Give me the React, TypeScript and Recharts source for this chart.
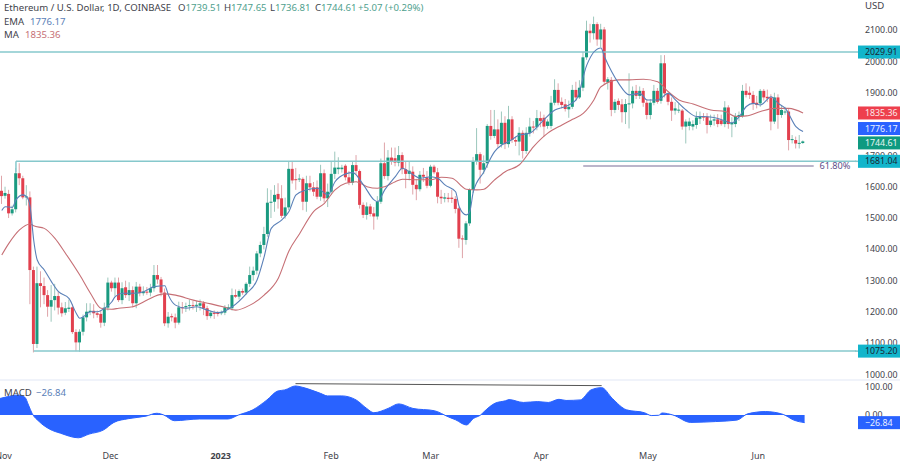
import { Area, Bar, ComposedChart, Line, ReferenceDot, ReferenceLine, XAxis, YAxis } from 'recharts';

const opens = [
  1587, 1571, 1577, 1515, 1528, 1643, 1627, 1566, 1566, 1334,
  1098, 1292, 1283, 1254, 1217, 1238, 1251, 1215, 1198, 1210,
  1215, 1136, 1103, 1137, 1183, 1200, 1204, 1196, 1194, 1166,
  1214, 1294, 1276, 1294, 1238, 1279, 1254, 1270, 1228, 1281,
  1260, 1265, 1262, 1276, 1318, 1304, 1262, 1164, 1187, 1183,
  1166, 1215, 1215, 1219, 1222, 1220, 1220, 1228, 1212, 1187,
  1198, 1197, 1196, 1198, 1210, 1212, 1254, 1249, 1267, 1262,
  1290, 1318, 1332, 1387, 1414, 1449, 1549, 1552, 1577, 1563,
  1507, 1534, 1657, 1624, 1624, 1625, 1552, 1611, 1598, 1598,
  1568, 1643, 1563, 1584, 1641, 1656, 1656, 1667, 1630, 1613,
  1669, 1650, 1542, 1510, 1537, 1515, 1505, 1552, 1675, 1634,
  1693, 1691, 1677, 1701, 1656, 1641, 1648, 1606, 1592, 1638,
  1630, 1603, 1664, 1646, 1568, 1562, 1565, 1565, 1561, 1531,
  1435, 1430, 1483, 1590, 1680, 1704, 1654, 1675, 1794, 1762,
  1783, 1736, 1804, 1736, 1815, 1749, 1744, 1772, 1714, 1772,
  1792, 1790, 1819, 1820, 1794, 1794, 1868, 1909, 1871, 1863,
  1847, 1855, 1909, 1885, 1916, 2013, 2098, 2090, 2119, 2070,
  2102, 1933, 1941, 1845, 1874, 1863, 1838, 1864, 1866, 1906,
  1890, 1906, 1868, 1829, 1868, 1906, 1874, 1994, 1898, 1871,
  1843, 1843, 1843, 1792, 1794, 1792, 1797, 1817, 1824, 1824,
  1797, 1811, 1815, 1812, 1800, 1853, 1799, 1800, 1824, 1826,
  1906, 1900, 1893, 1868, 1866, 1906, 1887, 1885, 1808, 1885,
  1829, 1839, 1840, 1749, 1749, 1738, 1739.51,
];
const highs = [
  1635, 1600, 1590, 1540, 1660, 1675, 1635, 1605, 1585, 1345,
  1345, 1330, 1310, 1270, 1286, 1290, 1265, 1230, 1232, 1240,
  1225, 1145, 1145, 1192, 1228, 1228, 1225, 1205, 1205, 1230,
  1310, 1300, 1310, 1310, 1295, 1300, 1295, 1282, 1296, 1290,
  1282, 1280, 1290, 1350, 1350, 1312, 1275, 1200, 1195, 1195,
  1233, 1232, 1230, 1240, 1235, 1235, 1240, 1235, 1220, 1205,
  1205, 1203, 1205, 1222, 1225, 1275, 1272, 1272, 1275, 1295,
  1345, 1345, 1395, 1425, 1472, 1595, 1590, 1605, 1611, 1605,
  1565, 1680, 1680, 1660, 1640, 1630, 1635, 1635, 1615, 1620,
  1670, 1655, 1610, 1680, 1712, 1694, 1670, 1672, 1650, 1680,
  1701, 1655, 1550, 1550, 1545, 1535, 1570, 1690, 1741, 1717,
  1725, 1725, 1730, 1710, 1680, 1680, 1665, 1625, 1650, 1660,
  1650, 1670, 1670, 1660, 1590, 1580, 1580, 1590, 1570, 1535,
  1445, 1490, 1595, 1695, 1787, 1710, 1700, 1800, 1845, 1845,
  1815, 1840, 1825, 1858, 1825, 1760, 1790, 1780, 1790, 1820,
  1810, 1845, 1840, 1830, 1815, 1890, 1943, 1930, 1885, 1880,
  1875, 1925, 1935, 1940, 2030, 2130, 2120, 2143, 2125, 2120,
  2110, 1950, 1950, 1880, 1882, 1880, 1880, 1962, 1920, 1925,
  1920, 1915, 1880, 1880, 1925, 1915, 2020, 2020, 1900, 1885,
  1870, 1865, 1848, 1815, 1820, 1812, 1840, 1840, 1835, 1835,
  1830, 1830, 1832, 1830, 1873, 1860, 1822, 1835, 1840, 1925,
  1930, 1920, 1905, 1890, 1912, 1912, 1910, 1895, 1900, 1895,
  1860, 1855, 1848, 1765, 1760, 1765, 1747.65,
];
const lows = [
  1545, 1562, 1500, 1508, 1518, 1605, 1560, 1540, 1225, 1071,
  1085, 1215, 1225, 1185, 1169, 1205, 1192, 1185, 1190, 1200,
  1130, 1075, 1073, 1125, 1170, 1190, 1180, 1182, 1150, 1155,
  1205, 1265, 1250, 1232, 1225, 1245, 1235, 1215, 1212, 1250,
  1252, 1255, 1250, 1265, 1290, 1250, 1155, 1150, 1170, 1148,
  1160, 1195, 1200, 1205, 1208, 1200, 1205, 1190, 1175, 1180,
  1178, 1186, 1190, 1190, 1208, 1205, 1245, 1240, 1255, 1255,
  1280, 1300, 1320, 1375, 1400, 1440, 1500, 1520, 1530, 1500,
  1498, 1525, 1610, 1590, 1615, 1525, 1520, 1585, 1570, 1560,
  1555, 1550, 1535, 1575, 1625, 1640, 1645, 1620, 1605, 1605,
  1640, 1530, 1500, 1495, 1505, 1463, 1495, 1545, 1625, 1620,
  1670, 1665, 1665, 1640, 1595, 1620, 1575, 1557, 1585, 1615,
  1595, 1598, 1640, 1547, 1545, 1550, 1550, 1548, 1515, 1405,
  1372, 1415, 1475, 1580, 1670, 1610, 1640, 1660, 1750, 1755,
  1725, 1725, 1720, 1725, 1740, 1730, 1700, 1690, 1705, 1760,
  1770, 1780, 1790, 1760, 1785, 1785, 1860, 1860, 1850, 1840,
  1820, 1848, 1875, 1880, 1905, 2005, 2060, 2070, 2050, 2045,
  1925, 1910, 1825, 1835, 1845, 1805, 1800, 1786, 1850, 1880,
  1880, 1855, 1815, 1815, 1860, 1865, 1865, 1885, 1860, 1810,
  1830, 1835, 1782, 1738, 1780, 1780, 1785, 1800, 1810, 1770,
  1790, 1795, 1790, 1795, 1790, 1785, 1758, 1790, 1810, 1820,
  1885, 1880, 1845, 1850, 1855, 1875, 1870, 1780, 1800, 1785,
  1820, 1830, 1716, 1738, 1722, 1722, 1736.81,
];
const closes = [
  1570, 1580, 1515, 1528, 1643, 1627, 1566, 1569, 1334, 1098,
  1292, 1283, 1254, 1217, 1238, 1251, 1214, 1196, 1212, 1214,
  1136, 1103, 1137, 1183, 1201, 1204, 1196, 1191, 1166, 1214,
  1294, 1276, 1294, 1238, 1276, 1254, 1270, 1228, 1281, 1260,
  1265, 1263, 1276, 1318, 1304, 1262, 1164, 1185, 1183, 1166,
  1215, 1213, 1219, 1222, 1220, 1223, 1228, 1212, 1187, 1198,
  1194, 1195, 1200, 1215, 1215, 1254, 1249, 1267, 1262, 1290,
  1318, 1332, 1387, 1414, 1449, 1549, 1552, 1574, 1560, 1507,
  1534, 1657, 1620, 1622, 1626, 1552, 1611, 1598, 1584, 1568,
  1643, 1563, 1584, 1641, 1661, 1661, 1661, 1630, 1613, 1669,
  1650, 1542, 1510, 1537, 1513, 1505, 1552, 1675, 1634, 1693,
  1680, 1677, 1701, 1656, 1641, 1651, 1606, 1592, 1638, 1632,
  1603, 1664, 1646, 1568, 1563, 1566, 1561, 1561, 1529, 1434,
  1432, 1483, 1590, 1680, 1704, 1654, 1675, 1794, 1762, 1783,
  1736, 1804, 1736, 1815, 1749, 1744, 1772, 1714, 1772, 1792,
  1790, 1819, 1810, 1792, 1808, 1868, 1909, 1868, 1861, 1848,
  1855, 1909, 1885, 1916, 2013, 2098, 2090, 2119, 2070, 2102,
  1935, 1943, 1845, 1871, 1861, 1838, 1864, 1866, 1906, 1890,
  1906, 1868, 1829, 1868, 1906, 1871, 1994, 1898, 1871, 1843,
  1850, 1846, 1792, 1808, 1808, 1800, 1821, 1824, 1822, 1797,
  1811, 1815, 1800, 1800, 1853, 1800, 1804, 1826, 1829, 1906,
  1893, 1893, 1864, 1861, 1906, 1885, 1882, 1808, 1885, 1829,
  1845, 1840, 1749, 1752, 1738, 1740, 1744.61,
];

const emaDays = [
  0, 1, 3, 4, 6, 7, 8, 9, 10, 12, 14, 16, 19, 21, 22, 23, 25, 27, 29, 31,
  32, 34, 37, 40, 43, 46, 47, 49, 52, 55, 58, 61, 65, 69, 72, 74, 76, 79, 81, 83,
  86, 89, 92, 94, 97, 99, 102, 105, 106, 108, 111, 113, 116, 118, 121, 123, 125, 128, 129, 131,
  132, 133, 136, 139, 141, 143, 146, 149, 152, 156, 159, 162, 165, 167, 169, 170, 172, 174, 177, 180,
  182, 185, 188, 190, 193, 196, 198, 202, 206, 208, 210, 212, 214, 217, 219, 221, 224, 226,
];
const emaValues = [
  1524, 1536, 1534, 1558, 1574, 1568, 1536, 1430, 1366, 1334, 1297, 1265, 1243, 1196, 1180, 1185, 1201, 1201, 1212, 1232,
  1249, 1260, 1260, 1265, 1281, 1284, 1254, 1222, 1212, 1217, 1206, 1198, 1217, 1259, 1302, 1376, 1467, 1494, 1521, 1574,
  1590, 1595, 1574, 1616, 1641, 1645, 1606, 1558, 1552, 1590, 1632, 1659, 1638, 1627, 1632, 1627, 1606, 1584, 1537, 1510,
  1521, 1584, 1648, 1712, 1733, 1744, 1765, 1771, 1803, 1845, 1856, 1877, 1988, 2030, 2043, 2015, 1968, 1930, 1893, 1898,
  1877, 1877, 1898, 1877, 1845, 1824, 1824, 1818, 1804, 1824, 1856, 1866, 1861, 1887, 1866, 1850, 1792, 1776.17,
];
const maDays = [
  0, 2, 5, 8, 9, 12, 15, 18, 22, 25, 28, 31, 33, 37, 41, 44, 46, 49, 54, 59,
  63, 66, 70, 74, 78, 81, 84, 88, 91, 94, 97, 100, 103, 106, 108, 111, 113, 117, 121, 124,
  127, 131, 134, 136, 139, 142, 146, 150, 154, 158, 161, 164, 167, 169, 174, 177, 181, 185, 188, 191,
  195, 200, 204, 207, 210, 214, 218, 222, 226,
];
const maValues = [
  1382, 1419, 1462, 1481, 1475, 1467, 1435, 1387, 1318, 1260, 1212, 1209, 1212, 1217, 1238, 1254, 1258, 1254, 1238, 1226,
  1215, 1206, 1222, 1254, 1308, 1395, 1450, 1521, 1547, 1590, 1611, 1616, 1600, 1595, 1600, 1616, 1624, 1622, 1622, 1630,
  1627, 1592, 1590, 1592, 1622, 1648, 1670, 1728, 1771, 1797, 1815, 1834, 1877, 1919, 1941, 1941, 1943, 1935, 1903, 1877,
  1864, 1845, 1840, 1824, 1826, 1840, 1850, 1850, 1835.36,
];
const macdDays = [
  0, 2, 5, 7, 8, 9, 11, 14, 17, 22, 25, 29, 32, 36, 41, 44, 46, 49, 56, 64,
  67, 71, 75, 78, 80, 83, 85, 90, 92, 96, 100, 103, 105, 109, 112, 116, 122, 126, 128, 131,
  133, 135, 136, 139, 142, 143, 147, 151, 154, 157, 159, 163, 166, 169, 172, 176, 181, 183, 185, 186,
  189, 194, 201, 207, 210, 215, 220, 223, 226,
];
const macdValues = [
  58, 64, 70, 62, 35, 6, -23, -50, -64, -80, -67, -53, -26, -13, -4, 6, 0, -20, -14, -14,
  0, 18, 53, 84, 88, 102, 97, 76, 67, 67, 53, 23, 8, 23, 39, 23, 15, -7, -17, -35,
  -12, 0, 12, 41, 50, 54, 44, 47, 44, 55, 51, 53, 88, 96, 58, 18, 8, -2, -1, 7,
  0, -26, -23, -18, 4, 12, 2, -18, -26.84,
];

// 1800 sits fully behind the price badges in the original, so it is left out
const priceTicks = [1000, 1100, 1200, 1300, 1400, 1500, 1600, 1700, 1900, 2000, 2100];
const macdTicks = [0, 100];
const monthTicks = [1, 31, 62, 93, 121, 152, 182, 213];
const monthNames = ['Nov', 'Dec', '2023', 'Feb', 'Mar', 'Apr', 'May', 'Jun'];
const totalDays = 242;
const priceDomain = [983, 2196];
const macdDomain = [-101.8, 119.3];

const UP = '#1a9a80';
const DOWN = '#e2404e';
const UP_WICK = '#9cc7bc';
const DOWN_WICK = '#dfa4a9';
const LEVEL = '#86c8cc';
const LEVEL_BADGE = '#12b5cb';
const EMA_COLOR = '#5a80b8';
const MA_COLOR = '#c66f75';
const FONT = '"Noto Sans", sans-serif';
const TEXT = '#3f434b';
const AXIS_SIZE = 8.8;

const days = Array.from({ length: totalDays }, (_, i) => i);

const rows = days.map((day) => {
  const e = emaDays.indexOf(day);
  const m = maDays.indexOf(day);
  return {
    day,
    open: opens[day],
    close: closes[day],
    range: day < opens.length ? [lows[day], highs[day]] : null,
    ema: e >= 0 ? emaValues[e] : null,
    ma: m >= 0 ? maValues[m] : null,
  };
});

const macdRows = days.map((day) => {
  const k = macdDays.indexOf(day);
  return { day, macd: k >= 0 ? macdValues[k] : null };
});

function Candle(props: any) {
  const { x, y, width, height, payload } = props;
  if (!payload || payload.range == null || !height) return null;
  const [low, high] = payload.range;
  const perUnit = height / (high - low);
  const isUp = payload.close >= payload.open;
  const top = y + (high - Math.max(payload.open, payload.close)) * perUnit;
  const bodyH = Math.max(Math.abs(payload.close - payload.open) * perUnit, 1);
  const cx = x + width / 2;
  return (
    <g>
      <line x1={cx} x2={cx} y1={y} y2={y + height} stroke={isUp ? UP_WICK : DOWN_WICK} strokeWidth={1} />
      <rect x={x} y={top} width={width} height={bodyH} fill={isUp ? UP : DOWN} />
    </g>
  );
}

function Badge(props: any) {
  const { viewBox, text, fill, color, shift = 0, lead } = props;
  if (!viewBox) return null;
  const right = viewBox.x + viewBox.width;
  const cy = viewBox.y + shift;
  return (
    <g>
      {lead && <line x1={right - 3} x2={right} y1={cy} y2={cy} stroke={lead} strokeWidth={1.5} />}
      <rect x={right} y={cy - 6.5} width={42} height={13} fill={fill} />
      <text x={right + 7} y={cy + 3.1} fontSize={AXIS_SIZE} fontFamily={FONT} fill={color}>{text}</text>
    </g>
  );
}

function MonthTick(props: any) {
  const { x, y, payload } = props;
  const label = monthNames[monthTicks.indexOf(payload.value)];
  return (
    <text x={x} y={y + 7} textAnchor="middle" fontSize={9} fontFamily={FONT} fill={TEXT} fontWeight={label === '2023' ? 700 : 400}>
      {label}
    </text>
  );
}

const headerStyle: any = { position: 'absolute', fontFamily: FONT, fontSize: 9.6, lineHeight: '12px', whiteSpace: 'nowrap' };
const valueGreen = '#4f9f8e';
const overlay: any = { position: 'absolute', left: 0, top: 0 };
const noMargin = { top: 0, right: 0, bottom: 0, left: 0 };

export default function App() {
  return (
    <div style={{ position: 'absolute', left: 0, top: 0, width: 900, height: 463, background: '#fff', overflow: 'hidden' }}>
      <div style={overlay}>
        <ComposedChart width={900} height={380} data={rows} margin={noMargin}>
          <XAxis dataKey="day" hide />
          <YAxis
            orientation="right"
            width={42}
            domain={priceDomain}
            allowDataOverflow
            ticks={priceTicks}
            interval={0}
            axisLine={false}
            tickLine={false}
            tickMargin={1}
            tick={{ fill: TEXT, fontSize: AXIS_SIZE, fontFamily: FONT }}
            tickFormatter={(v) => Number(v).toFixed(2)}
          />
          <ReferenceLine y={2029.91} stroke={LEVEL} strokeWidth={1.5} />
          <ReferenceLine segment={[{ x: 4, y: 1681.04 }, { x: 241, y: 1681.04 }]} stroke={LEVEL} strokeWidth={1.5} />
          <ReferenceLine segment={[{ x: 4, y: 1681.04 }, { x: 4, y: 1645 }]} stroke={LEVEL} strokeWidth={1.5} />
          <ReferenceLine segment={[{ x: 9, y: 1075.2 }, { x: 241, y: 1075.2 }]} stroke={LEVEL} strokeWidth={1.5} />
          <ReferenceLine segment={[{ x: 164, y: 1666 }, { x: 229, y: 1666 }]} stroke="#a49cb8" strokeWidth={1.5} />
          <ReferenceDot x={235} y={1666} r={0} fill="none" stroke="none" label={{ value: '61.80%', fill: '#5d4f8a', fontSize: 9.2, fontFamily: FONT }} />
          <Bar dataKey="range" shape={<Candle />} isAnimationActive={false} barSize={3} />
          <Line dataKey="ma" type="monotone" connectNulls dot={false} activeDot={false} stroke={MA_COLOR} strokeWidth={1.1} isAnimationActive={false} />
          <Line dataKey="ema" type="monotone" connectNulls dot={false} activeDot={false} stroke={EMA_COLOR} strokeWidth={1.1} isAnimationActive={false} />
        </ComposedChart>
      </div>

      {/* same scale again, on top, so the price badges cover the axis labels as they do in the original */}
      <div style={overlay}>
        <ComposedChart width={900} height={380} data={rows} margin={{ ...noMargin, right: 42 }}>
          <XAxis dataKey="day" hide />
          <YAxis hide domain={priceDomain} allowDataOverflow />
          <ReferenceLine y={2029.91} stroke="none" label={<Badge text="2029.91" fill={LEVEL_BADGE} color="#1b2733" />} />
          <ReferenceLine y={1835.36} stroke="none" label={<Badge text="1835.36" fill="#ee3f4d" color="#fbe9ea" />} />
          <ReferenceLine y={1776.17} stroke="none" label={<Badge text="1776.17" fill="#2962ff" color="#eaf0ff" shift={-3} />} />
          <ReferenceLine y={1744.61} stroke="none" label={<Badge text="1744.61" fill="#0f9a80" color="#e9f6f3" shift={1.5} />} />
          <ReferenceLine y={1681.04} stroke="none" label={<Badge text="1681.04" fill={LEVEL_BADGE} color="#1b2733" lead={LEVEL} />} />
          <ReferenceLine y={1075.2} stroke="none" label={<Badge text="1075.20" fill={LEVEL_BADGE} color="#1b2733" lead={LEVEL} />} />
        </ComposedChart>
      </div>

      <div style={{ position: 'absolute', left: 0, top: 379, width: 900, height: 2, background: '#f0f3fa' }} />

      <div style={{ ...overlay, top: 381 }}>
        <ComposedChart width={900} height={82} data={macdRows} margin={noMargin}>
          <XAxis dataKey="day" ticks={monthTicks} interval={0} height={19} axisLine={false} tickLine={false} tick={<MonthTick />} />
          <YAxis
            orientation="right"
            width={42}
            domain={macdDomain}
            allowDataOverflow
            ticks={macdTicks}
            interval={0}
            axisLine={false}
            tickLine={false}
            tickMargin={1}
            tick={{ fill: TEXT, fontSize: AXIS_SIZE, fontFamily: FONT }}
            tickFormatter={(v) => Number(v).toFixed(2)}
          />
          <Area dataKey="macd" type="monotone" connectNulls baseValue={0} stroke="#2962ff" strokeWidth={1} fill="#2962ff" fillOpacity={1} dot={false} activeDot={false} isAnimationActive={false} />
          <ReferenceLine segment={[{ x: 83, y: 110 }, { x: 169, y: 103 }]} stroke="#555" strokeWidth={1} />
        </ComposedChart>
      </div>
      <div style={{ ...overlay, top: 381 }}>
        <ComposedChart width={900} height={82} data={macdRows} margin={{ top: 0, right: 42, bottom: 19, left: 0 }}>
          <XAxis dataKey="day" hide />
          <YAxis hide domain={macdDomain} allowDataOverflow />
          <ReferenceLine y={-26.84} stroke="none" label={<Badge text="−26.84" fill="#2962ff" color="#eaf0ff" />} />
        </ComposedChart>
      </div>

      <div style={{ ...headerStyle, left: 4, top: 2, color: TEXT }}>Ethereum / U.S. Dollar, 1D, COINBASE</div>
      <div style={{ ...headerStyle, left: 178, top: 2, color: TEXT }}>O<span style={{ color: valueGreen }}>1739.51</span></div>
      <div style={{ ...headerStyle, left: 224, top: 2, color: TEXT }}>H<span style={{ color: valueGreen }}>1747.65</span></div>
      <div style={{ ...headerStyle, left: 270, top: 2, color: TEXT }}>L<span style={{ color: valueGreen }}>1736.81</span></div>
      <div style={{ ...headerStyle, left: 315, top: 2, color: TEXT }}>C<span style={{ color: valueGreen }}>1744.61</span></div>
      <div style={{ ...headerStyle, left: 358, top: 2, color: valueGreen }}>+5.07 (+0.29%)</div>
      <div style={{ ...headerStyle, left: 4, top: 16, color: TEXT }}>EMA</div>
      <div style={{ ...headerStyle, left: 30, top: 16, color: EMA_COLOR }}>1776.17</div>
      <div style={{ ...headerStyle, left: 4, top: 29, color: TEXT }}>MA</div>
      <div style={{ ...headerStyle, left: 25, top: 29, color: MA_COLOR }}>1835.36</div>
      <div style={{ ...headerStyle, left: 865, top: 0, color: TEXT }}>USD</div>
      <div style={{ ...headerStyle, left: 4, top: 387, color: TEXT }}>MACD</div>
      <div style={{ ...headerStyle, left: 36, top: 387, color: EMA_COLOR }}>−26.84</div>
    </div>
  );
}
